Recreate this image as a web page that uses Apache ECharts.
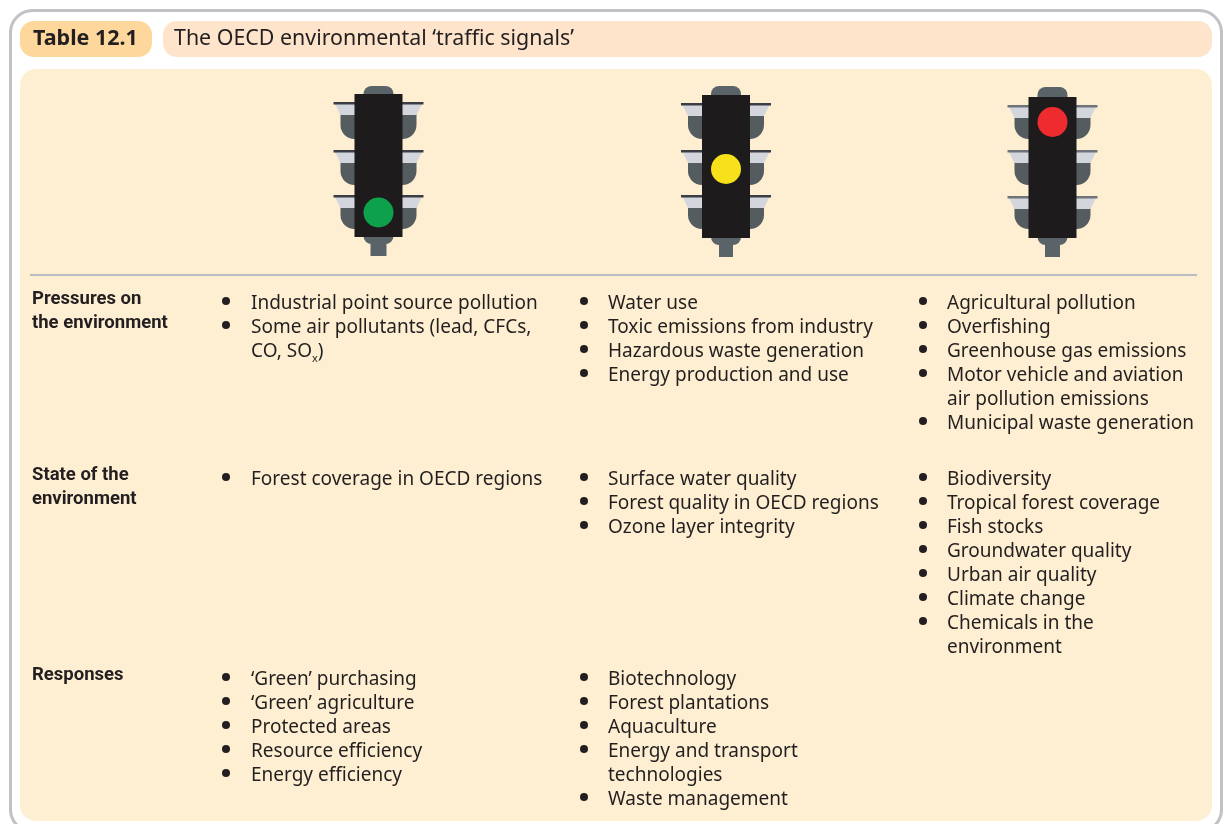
<!DOCTYPE html>
<html><head><meta charset="utf-8">
<style>html,body{margin:0;padding:0;background:#fff}#c{width:1225px;height:824px}</style>
<script src="https://cdn.jsdelivr.net/npm/echarts@6/dist/echarts.min.js"></script>
</head><body><div id="c"></div>
<script>
const tableNo = 'Table 12.1';
const tableTitle = 'The OECD environmental ‘traffic signals’';
const rowLabels = ['Pressures on\nthe environment', 'State of the\nenvironment', 'Responses'];
const pressuresGreen = ['Industrial point source pollution', 'Some air pollutants (lead, CFCs,\nCO, SO{sub|x})'];
const pressuresAmber = ['Water use', 'Toxic emissions from industry', 'Hazardous waste generation', 'Energy production and use'];
const pressuresRed = ['Agricultural pollution', 'Overfishing', 'Greenhouse gas emissions', 'Motor vehicle and aviation\nair pollution emissions', 'Municipal waste generation'];
const stateGreen = ['Forest coverage in OECD regions'];
const stateAmber = ['Surface water quality', 'Forest quality in OECD regions', 'Ozone layer integrity'];
const stateRed = ['Biodiversity', 'Tropical forest coverage', 'Fish stocks', 'Groundwater quality', 'Urban air quality', 'Climate change', 'Chemicals in the\nenvironment'];
const responsesGreen = ['‘Green’ purchasing', '‘Green’ agriculture', 'Protected areas', 'Resource efficiency', 'Energy efficiency'];
const responsesAmber = ['Biotechnology', 'Forest plantations', 'Aquaculture', 'Energy and transport\ntechnologies', 'Waste management'];
const responsesRed = [];
const cells = [[pressuresGreen, pressuresAmber, pressuresRed],[stateGreen, stateAmber, stateRed],[responsesGreen, responsesAmber, responsesRed]];
const lamps = [
  {cx:378.5, cy:212.5, color:'#0DA14B', top:94, cap:86, bottom:237, wings:[102,150,195], bar:'#3A3D44', stem:8},
  {cx:726, cy:169, color:'#F7E11B', top:95, cap:86, bottom:238, wings:[103,150,195], bar:'#3A3D44', stem:7},
  {cx:1052.5, cy:122, color:'#EE2B2F', top:97, cap:87, bottom:238, wings:[105,150,196], bar:'#6E747A', stem:7.5}
];

const FONT = '"Noto Sans", sans-serif';
const LH = 24, INK = '#231F20';
const rowTop = [304, 480, 680], labelTop = [299, 475, 675];
const bulletX = [226, 584, 923], textX = [251, 608, 947];
const g = [];
const rect = (x,y,w,h,fill,r) => g.push({type:'rect',shape:{x,y,width:w,height:h,r:r||0},style:{fill}});
const poly = (pts,fill) => g.push({type:'polygon',shape:{points:pts},style:{fill}});
const text = (x,y,t,o) => g.push({type:'text',x,y,style:Object.assign({text:t,fontFamily:FONT,fontSize:19,fill:INK,lineHeight:LH,verticalAlign:'middle',align:'left'},o||{})});

g.push({type:'rect',shape:{x:10.5,y:10.5,width:1211,height:821,r:22},style:{fill:'#fff',stroke:'#C0C2C6',lineWidth:3}});
rect(20,21,132,36,'#FDD79B',14);
rect(163,21,1049,36,'#FDE4CA',14);
rect(20,69,1192,752,'#FEEFD2',16);
text(33,39,tableNo,{fontWeight:'bold',fontSize:21.5});
text(174,39,tableTitle,{fontSize:21.4});
rect(30,274,1167,2,'#B9BCC0');

function signal(l){
  const cx=l.cx;
  rect(cx-15,l.cap,30,12,'#5A6468',[8,8,0,0]);
  l.wings.forEach((y,i)=>{
    const bottom=[139,185,229][i];
    [-1,1].forEach(s=>{
      const a=x=>cx+s*x;
      rect(s<0?cx-38:cx+19,y+10,19,bottom-y-10,'#545C60',s<0?[0,0,0,14]:[0,0,14,0]);
      poly([[a(20),y+1],[a(44),y+1],[a(38),y+13],[a(20),y+13]],'#D3D6DC');
      rect(s<0?cx-45:cx+20,y,25,2.5,l.bar);
    });
  });
  rect(cx-15,l.bottom-4,30,11,'#5A6468',[0,0,8,8]);
  rect(cx-l.stem,l.bottom+2,l.stem*2,17,'#5A6468');
  rect(cx-24,l.top,48,l.bottom-l.top,'#1D1B1C');
  g.push({type:'circle',shape:{cx,cy:l.cy,r:15},style:{fill:l.color}});
}
lamps.forEach(signal);

rowLabels.forEach((t,i)=>text(32,labelTop[i]+(t.includes('\n')?LH/2:0),t,{fontWeight:'bold',fontSize:18.5,fontFamily:'Roboto, sans-serif'}));
cells.forEach((row,r)=>row.forEach((items,c)=>{
  let y=rowTop[r];
  items.forEach(t=>{
    const n=t.split('\n').length;
    g.push({type:'circle',shape:{cx:bulletX[c],cy:y-3,r:4},style:{fill:INK}});
    text(textX[c],y+(n-1)*LH/2,t,{rich:{sub:{fontSize:11,fontFamily:FONT,fill:INK,verticalAlign:'bottom',padding:[8,0,0,0]}}});
    y+=n*LH;
  });
}));
const chart=echarts.init(document.getElementById('c'),null,{renderer:'canvas'});
chart.setOption({animation:false,graphic:{elements:g}});
</script></body></html>
